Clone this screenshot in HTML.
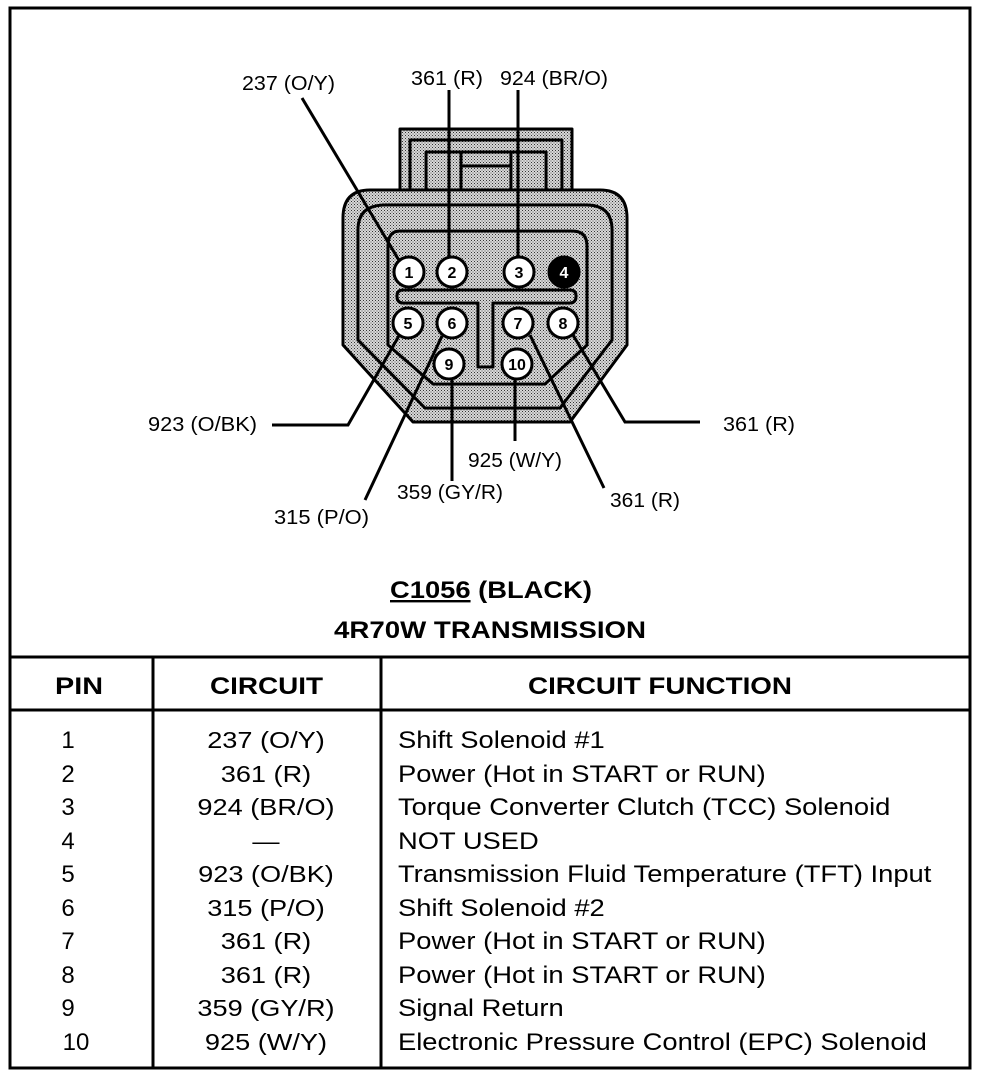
<!DOCTYPE html>
<html><head><meta charset="utf-8"><style>
body{margin:0;background:#fff;}
svg{display:block;font-family:"Liberation Sans",Arial,sans-serif;}
</style></head><body>
<svg width="992" height="1076" viewBox="0 0 992 1076" xmlns="http://www.w3.org/2000/svg">
<defs>
<pattern id="dot" width="3" height="3" patternUnits="userSpaceOnUse">
<rect width="3" height="3" fill="#d8d8d8"/><rect width="1" height="1" fill="#333"/><rect x="1.5" y="1.5" width="1" height="1" fill="#555"/>
</pattern>
</defs>
<rect x="10" y="8" width="960" height="1060" fill="none" stroke="#000" stroke-width="3"/>
<g stroke="#000" stroke-width="3" fill="url(#dot)" stroke-linejoin="round">
<rect x="400" y="129" width="172" height="70"/>
<rect x="410" y="140" width="152" height="60"/>
<rect x="426" y="152" width="120" height="50"/>
<rect x="461" y="152" width="50" height="50"/>
<line x1="461" y1="166" x2="511" y2="166"/>
<path d="M370,190 L600,190 Q627,190 627,218 L627,345 L570,422 L413,422 L343,345 L343,218 Q343,190 370,190Z"/>
<path d="M385,205 L586,205 Q612,205 612,230 L612,340 L560,408 L425,408 L358,340 L358,230 Q358,205 385,205Z"/>
<path d="M400,231 L572,231 Q587,231 587,246 L587,345 L545,384 L433,384 L388,345 L388,246 Q388,231 400,231Z"/>
<path d="M403,290 L570,290 Q576,290 576,296 Q576,303 570,303 L493,303 L493,367 L478,367 L478,303 L403,303 Q397,303 397,296 Q397,290 403,290Z"/>
</g>
<g stroke="#000" stroke-width="3" fill="none">
<line x1="302" y1="98" x2="400" y2="262"/>
<line x1="449" y1="90" x2="449" y2="258"/>
<line x1="518" y1="90" x2="518" y2="258"/>
<polyline points="272,425 348,425 400,334"/>
<line x1="365" y1="500" x2="442" y2="336"/>
<line x1="452" y1="380" x2="452" y2="481"/>
<line x1="515" y1="380" x2="515" y2="441"/>
<line x1="604" y1="488" x2="530" y2="335"/>
<polyline points="573,335 625,422 700,422"/>
</g>
<g stroke="#000" stroke-width="3" fill="#fff">
<circle cx="409" cy="272" r="15"/><circle cx="452" cy="272" r="15"/>
<circle cx="519" cy="272" r="15"/><circle cx="564" cy="272" r="15" fill="#000"/>
<circle cx="408" cy="323" r="15"/><circle cx="452" cy="323" r="15"/>
<circle cx="518" cy="323" r="15"/><circle cx="563" cy="323" r="15"/>
<circle cx="449" cy="364" r="15"/><circle cx="517" cy="364" r="15"/>
</g>
<g font-size="16" font-weight="bold" text-anchor="middle" fill="#000">
<text x="409" y="278">1</text><text x="452" y="278">2</text><text x="519" y="278">3</text>
<text x="564" y="278" fill="#fff">4</text>
<text x="408" y="329">5</text><text x="452" y="329">6</text><text x="518" y="329">7</text>
<text x="563" y="329">8</text><text x="449" y="370">9</text><text x="517" y="370">10</text>
</g>
<g font-size="20" fill="#000" lengthAdjust="spacingAndGlyphs">
<text x="242" y="90" textLength="93" lengthAdjust="spacingAndGlyphs">237 (O/Y)</text>
<text x="411" y="85" textLength="72" lengthAdjust="spacingAndGlyphs">361 (R)</text>
<text x="500" y="85" textLength="108" lengthAdjust="spacingAndGlyphs">924 (BR/O)</text>
<text x="148" y="431" textLength="109" lengthAdjust="spacingAndGlyphs">923 (O/BK)</text>
<text x="723" y="431" textLength="72" lengthAdjust="spacingAndGlyphs">361 (R)</text>
<text x="468" y="467" textLength="94" lengthAdjust="spacingAndGlyphs">925 (W/Y)</text>
<text x="397" y="499" textLength="106" lengthAdjust="spacingAndGlyphs">359 (GY/R)</text>
<text x="610" y="507" textLength="70" lengthAdjust="spacingAndGlyphs">361 (R)</text>
<text x="274" y="524" textLength="95" lengthAdjust="spacingAndGlyphs">315 (P/O)</text>
</g>
<g font-size="24" font-weight="bold">
<text x="390" y="598" textLength="202" lengthAdjust="spacingAndGlyphs"><tspan text-decoration="underline">C1056</tspan> (BLACK)</text>
<text x="334" y="638" textLength="312" lengthAdjust="spacingAndGlyphs">4R70W TRANSMISSION</text>
</g>
<g stroke="#000" stroke-width="3">
<line x1="10" y1="657" x2="970" y2="657"/>
<line x1="10" y1="710" x2="970" y2="710"/>
<line x1="153" y1="657" x2="153" y2="1068"/>
<line x1="381" y1="657" x2="381" y2="1068"/>
</g>
<g font-size="24" font-weight="bold">
<text x="55" y="694" textLength="48" lengthAdjust="spacingAndGlyphs">PIN</text>
<text x="210" y="694" textLength="113" lengthAdjust="spacingAndGlyphs">CIRCUIT</text>
<text x="528" y="694" textLength="264" lengthAdjust="spacingAndGlyphs">CIRCUIT FUNCTION</text>
</g>
<g font-size="24" text-anchor="middle">
<text x="68" y="748">1</text><text x="68" y="782">2</text><text x="68" y="815">3</text>
<text x="68" y="849">4</text><text x="68" y="882">5</text><text x="68" y="916">6</text>
<text x="68" y="949">7</text><text x="68" y="983">8</text><text x="68" y="1016">9</text>
<text x="76" y="1050">10</text>
</g>
<g font-size="23" text-anchor="middle" transform="translate(266,0) scale(1.18,1) translate(-266,0)">
<text x="266" y="748">237 (O/Y)</text><text x="266" y="782">361 (R)</text>
<text x="266" y="815">924 (BR/O)</text><text x="266" y="849">—</text>
<text x="266" y="882">923 (O/BK)</text><text x="266" y="916">315 (P/O)</text>
<text x="266" y="949">361 (R)</text><text x="266" y="983">361 (R)</text>
<text x="266" y="1016">359 (GY/R)</text><text x="266" y="1050">925 (W/Y)</text>
</g>
<g font-size="24" transform="translate(398,0) scale(1.14,1) translate(-398,0)">
<text x="398" y="748">Shift Solenoid #1</text>
<text x="398" y="782">Power (Hot in START or RUN)</text>
<text x="398" y="815">Torque Converter Clutch (TCC) Solenoid</text>
<text x="398" y="849">NOT USED</text>
<text x="398" y="882">Transmission  Fluid Temperature (TFT) Input</text>
<text x="398" y="916">Shift Solenoid #2</text>
<text x="398" y="949">Power (Hot in START or RUN)</text>
<text x="398" y="983">Power (Hot in START or RUN)</text>
<text x="398" y="1016">Signal Return</text>
<text x="398" y="1050">Electronic Pressure Control (EPC) Solenoid</text>
</g>
</svg>
</body></html>
